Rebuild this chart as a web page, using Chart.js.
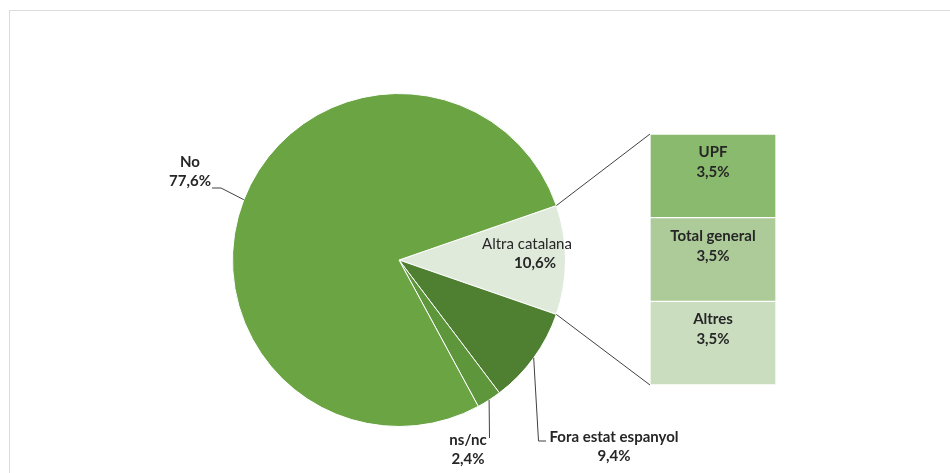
<!DOCTYPE html>
<html>
<head>
<meta charset="utf-8">
<script src="https://cdn.jsdelivr.net/npm/chart.js@4.4.0/dist/chart.umd.min.js"></script>
<style>
  body { margin: 0; background: #fff; }
  #wrap { position: relative; width: 950px; height: 473px; overflow: hidden; }
  #frame { position: absolute; left: 9px; top: 10px; width: 1200px; height: 1000px; border: 1px solid #dcdcdc; }
  canvas { position: absolute; left: 0; top: 0; }
  #barChart { pointer-events: none; }
</style>
</head>
<body>
<div id="wrap">
  <div id="frame"></div>
  <canvas id="pieChart" width="950" height="473"></canvas>
  <canvas id="barChart" width="950" height="473"></canvas>
</div>
<script>
// pie data (first slice is the one split into the bar)
const categories = ['Altra catalana', 'Fora estat espanyol', 'ns/nc', 'No'];
const shares = [10.6, 9.4, 2.4, 77.6];
const pieColors = ['#E0EADB', '#4F7F31', '#5E973B', '#6AA443'];

// bar data, bottom to top
const barCategories = ['Altres', 'Total general', 'UPF'];
const barShares = [3.5, 3.5, 3.5];
const barColors = ['#CADDBF', '#ADCA99', '#8ABA6D'];

const FONT = 'Lato, "Open Sans", sans-serif';
const FSIZE = 15;
const TEXT = '#262626';
const LINE = '#404040';

function pct(v) {
  return v.toFixed(1).replace('.', ',') + '%';
}

function edgePoint(arc, angle) {
  return { x: arc.x + arc.outerRadius * Math.cos(angle), y: arc.y + arc.outerRadius * Math.sin(angle) };
}

// where each pie label goes (elbow points for the leader lines)
const pieLabels = {
  'No': { x: 190, y: 162, pctX: 190, leader: [[221, 188], [212, 188]] },
  'ns/nc': { x: 468, y: 440, pctX: 468, leader: [[489.5, 438]] },
  'Fora estat espanyol': { x: 614, y: 437, pctX: 614, leader: [[538.5, 441], [546, 441]] },
  'Altra catalana': { x: 527, y: 244, pctX: 535, inside: true }
};

const pieLabelPlugin = {
  id: 'pieLabels',
  afterDatasetsDraw(chart) {
    const ctx = chart.ctx;
    const arcs = chart.getDatasetMeta(0).data;
    ctx.save();
    arcs.forEach(function (el, i) {
      const arc = el.getProps(['x', 'y', 'startAngle', 'endAngle', 'outerRadius'], true);
      const cfg = pieLabels[categories[i]];
      if (cfg.leader) {
        const p = edgePoint(arc, (arc.startAngle + arc.endAngle) / 2);
        ctx.beginPath();
        ctx.strokeStyle = LINE;
        ctx.lineWidth = 1;
        ctx.moveTo(p.x, p.y);
        cfg.leader.forEach(function (pt) { ctx.lineTo(pt[0], pt[1]); });
        ctx.stroke();
      }
      ctx.fillStyle = TEXT;
      ctx.textAlign = 'center';
      ctx.textBaseline = 'middle';
      ctx.font = (cfg.inside ? 'normal' : 'bold') + ' ' + FSIZE + 'px ' + FONT;
      ctx.fillText(categories[i], cfg.x, cfg.y);
      ctx.font = 'bold ' + FSIZE + 'px ' + FONT;
      ctx.fillText(pct(shares[i]), cfg.pctX, cfg.y + 19);
    });
    ctx.restore();
  }
};

const pieChart = new Chart(document.getElementById('pieChart'), {
  type: 'pie',
  data: {
    labels: categories,
    datasets: [{
      data: shares,
      backgroundColor: pieColors,
      borderColor: '#ffffff',
      borderWidth: 1
    }]
  },
  options: {
    responsive: false,
    animation: false,
    devicePixelRatio: 1,
    rotation: 90 - shares[0] * 3.6 / 2,
    layout: { padding: { left: 232, right: 384, top: 93, bottom: 46 } },
    plugins: { legend: { display: false }, tooltip: { enabled: false } }
  },
  plugins: [pieLabelPlugin]
});

const barLabelPlugin = {
  id: 'barLabels',
  afterDatasetsDraw(chart) {
    const ctx = chart.ctx;
    ctx.save();
    // connectors from the split slice to the bar
    const arc = pieChart.getDatasetMeta(0).data[0].getProps(['x', 'y', 'startAngle', 'endAngle', 'outerRadius'], true);
    const topBar = chart.getDatasetMeta(barShares.length - 1).data[0];
    const botBar = chart.getDatasetMeta(0).data[0];
    const left = topBar.x - topBar.width / 2;
    const a = edgePoint(arc, arc.startAngle);
    const b = edgePoint(arc, arc.endAngle);
    ctx.strokeStyle = LINE;
    ctx.lineWidth = 1;
    ctx.beginPath();
    ctx.moveTo(a.x, a.y);
    ctx.lineTo(left, topBar.y);
    ctx.moveTo(b.x, b.y);
    ctx.lineTo(left, botBar.base);
    ctx.stroke();

    ctx.fillStyle = TEXT;
    ctx.textAlign = 'center';
    ctx.textBaseline = 'middle';
    ctx.font = 'bold ' + FSIZE + 'px ' + FONT;
    barCategories.forEach(function (name, i) {
      const bar = chart.getDatasetMeta(i).data[0];
      ctx.fillText(name, bar.x, bar.y + 18);
      ctx.fillText(pct(barShares[i]), bar.x, bar.y + 38);
    });
    ctx.restore();
  }
};

new Chart(document.getElementById('barChart'), {
  type: 'bar',
  data: {
    labels: [''],
    datasets: barCategories.map(function (name, i) {
      return {
        label: name,
        data: [barShares[i]],
        backgroundColor: barColors[i],
        borderColor: '#ffffff',
        borderWidth: 1,
        borderSkipped: false,
        barPercentage: 1,
        categoryPercentage: 1
      };
    })
  },
  options: {
    responsive: false,
    animation: false,
    devicePixelRatio: 1,
    layout: { padding: { left: 650, right: 174, top: 134, bottom: 88 } },
    scales: {
      x: { display: false, stacked: true },
      y: { display: false, stacked: true, min: 0, max: barShares.reduce(function (s, v) { return s + v; }, 0) }
    },
    plugins: { legend: { display: false }, tooltip: { enabled: false } }
  },
  plugins: [barLabelPlugin]
});
</script>
</body>
</html>
